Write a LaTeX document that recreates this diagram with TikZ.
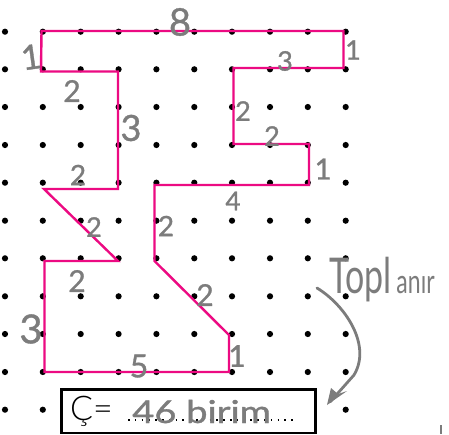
\documentclass[tikz,border=0pt]{standalone}
\usepackage{fontspec}
\setmainfont{Lato}
\newfontfamily\thinfont{Lato Light}
\newfontfamily\handfont[FakeBold=1]{Lato}
\definecolor{pinkline}{HTML}{EC0A82}
\definecolor{pencil}{HTML}{7C7C7C}
\tikzset{
  griddot/.style={fill=black,draw=none},
  outline/.style={draw=pinkline,line width=2.4pt,line join=miter},
  hand/.style={text=pencil,font=\handfont\fontsize{#1}{#1}\selectfont,inner sep=0pt},
  hand/.default=20,
  stroke/.style={draw=pencil,line width=2.8pt,line cap=round,line join=round},
  framebox/.style={draw=black,line width=2.4pt,fill=white}
}
\begin{document}
\begin{tikzpicture}[x=1pt,y=-1pt]
\useasboundingbox (0,0) rectangle (449,434);
\fill[white] (0,0) rectangle (449,434);
% dot grid
\foreach \x in {5,42.8,80.7,118.6,156.4,194.3,232,270,307.8,345.7}
  \foreach \y in {31.7,69.3,107,145,182.7,220.7,258.3,296.3,334,372}
    \fill[griddot] (\x,\y) circle (3.1pt);
\foreach \x in {5,42.8,345.7}
  \fill[griddot] (\x,409.7) circle (3.1pt);
% polygon
\draw[outline] (41.5,31) -- (343.5,31) -- (343.5,68) -- (233.5,68) -- (233.5,144)
  -- (309,144) -- (309,185) -- (154.5,185) -- (154.5,261) -- (229,335) -- (229,372)
  -- (44.5,372) -- (44.5,261) -- (118,261) -- (44,189) -- (118,189) -- (118,71.5)
  -- (41,71.5) -- cycle;
% side lengths
\node[hand=38] (l8) at (180,22) {8};
\node[hand=34,rotate=8] (l1a) at (31,57) {1};
\node[hand=30] (l2a) at (72,91) {2};
\node[hand=36] (l3a) at (131,128) {3};
\node[hand=28] (l2b) at (78,175) {2};
\node[hand=27] (l2c) at (94,227) {2};
\node[hand=30] (l2d) at (77,281) {2};
\node[hand=40] (l3b) at (31,329) {3};
\node[hand=32] (l5) at (139,366) {5};
\node[hand=30] (l2e) at (205,295) {2};
\node[hand=30] (l1b) at (237,356) {1};
\node[hand=28] (l2f) at (166,226) {2};
\node[hand=26] (l4) at (233,201) {4};
\node[hand=27] (l3c) at (285,61) {3};
\node[hand=27] (l1c) at (353,50) {1};
\node[hand=27] (l2g) at (243,111) {2};
\node[hand=27] (l2h) at (272,136) {2};
\node[hand=29] (l1d) at (323,169) {1};
% answer box
\draw[framebox] (61.5,389.5) rectangle (315.5,433);
\node[inner sep=0pt,anchor=base west,font=\thinfont\fontsize{34}{34}\selectfont] (res) at (70,420) {Ç=};
\draw[black,line width=1.6pt,dash pattern=on 1.6pt off 5.2pt] (128,420) -- (294,420);
\node[hand=30,anchor=base west,xscale=1.27,yscale=1.05] (ans) at (132,423) {46 birim};
% annotation
\node[text=pencil,inner sep=0pt,anchor=base west,yscale=1.45] (top) at (329,293)
  {\fontsize{34}{34}\selectfont Topl\hspace{5pt}\fontsize{23}{23}\selectfont anır};
\coordinate (arrowstart) at (317,288);
\coordinate (arrowtip) at (330,402);
\draw[stroke] (arrowstart) .. controls (345,305) and (372,345) .. (354,375) -- (arrowtip);
\fill[pencil] (327,405) -- (331,388) -- (338,394) -- (347,391) -- cycle;
\coordinate (ticka) at (441,425);
\coordinate (tickb) at (441,434);
\draw[pencil,line width=1.4pt] (ticka) -- (tickb);
\end{tikzpicture}
\end{document}
